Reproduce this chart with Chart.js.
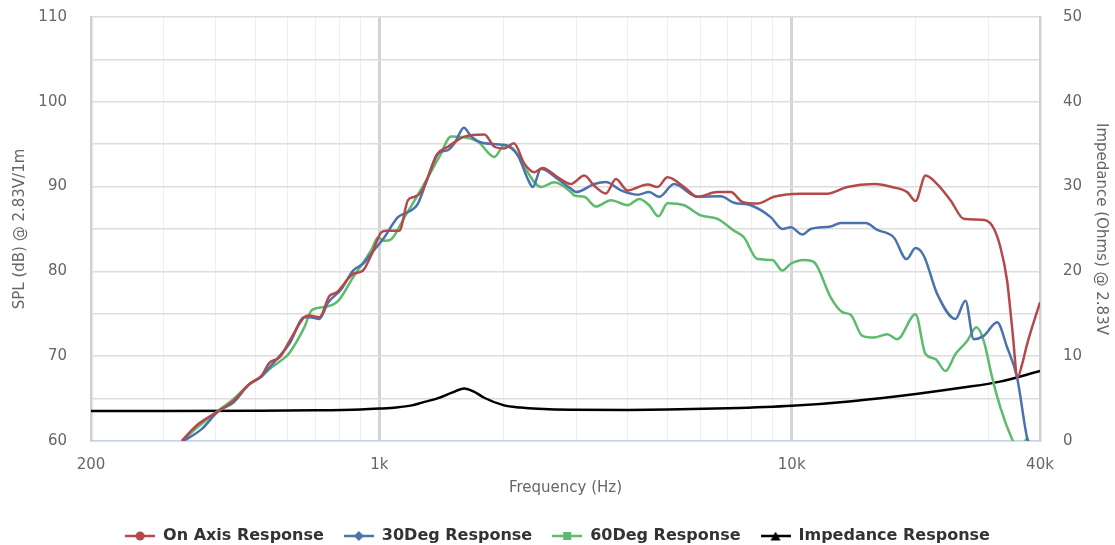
<!DOCTYPE html>
<html>
<head>
<meta charset="utf-8">
<script src="https://cdn.jsdelivr.net/npm/chart.js@4"></script>
<style>
html,body{margin:0;padding:0;background:#fff;}
#wrap{width:1115px;height:545px;position:relative;}
</style>
</head>
<body>
<div id="wrap"><canvas id="c" width="1115" height="545"></canvas></div>
<script>
// ---- data ----
const onAxisFreq = [332,360,407,442,484,518,542,573,606,658,677,716,757,787,864,913,956,1011,1040,1118,1174,1218,1264,1387,1467,1609,1799,1902,2011,2120,2248,2377,2491,2709,2917,2972,3141,3321,3544,3747,4001,4473,4728,5000,5485,5912,6607,7116,7594,8257,9058,10515,12201,13643,15826,17693,19060,19963,21108,22529,24266,26135,28681,30620,32069,33288,34230,35313,36192,37214,40000];
const onAxisSpl  = [60,61.8,63.5,64.7,66.7,67.7,69.25,69.85,71.8,74.6,74.8,74.6,77.1,77.5,79.7,80.1,81.9,84.6,84.8,84.8,88.4,88.8,89.35,93.9,94.7,95.9,96.15,94.7,94.5,95.1,92.7,91.7,92.2,91.1,90.3,90.5,91.3,90.1,89.2,90.9,89.55,90.25,89.95,91.1,89.95,88.8,89.35,89.35,88.2,88.0,88.8,89.15,89.15,89.95,90.3,89.9,89.35,88.3,91.3,90.3,88.4,86.2,86.1,85.4,82.85,78.9,73.4,67.55,69.05,71.4,76.35];

const deg30Freq = [335,371,407,442,484,518,542,606,658,677,716,751,809,864,913,956,1028,1110,1196,1241,1300,1387,1467,1522,1604,1671,1799,2011,2167,2291,2356,2467,2709,2917,3000,3321,3544,3855,4231,4513,4770,5188,5912,6730,7248,7955,8895,9495,9945,10614,11117,12428,13141,15111,16128,17693,18989,19963,20908,22529,24952,26383,27631,29215,31485,33288,35196,37214,38500];
const deg30Spl  = [60,61.4,63.5,64.5,66.7,67.6,68.7,71.5,74.6,74.6,74.4,76.3,77.9,80.1,80.9,82.1,84.0,86.4,87.2,88.0,90.55,93.9,94.3,95.1,96.95,95.9,95.1,94.9,93.7,90.9,89.95,92.1,90.9,89.75,89.35,90.3,90.55,89.55,89.05,89.35,88.8,90.3,88.8,88.85,88.1,87.8,86.4,85.0,85.2,84.35,85.0,85.3,85.7,85.7,84.9,84.0,81.45,82.75,81.85,77.35,74.4,76.55,72.0,72.4,74.0,71.05,67.5,60.4,58.5];

const deg60Freq = [332,360,407,442,484,518,542,596,606,658,685,736,794,864,956,993,1028,1069,1152,1312,1398,1494,1734,1902,2011,2126,2248,2467,2659,2917,2972,3141,3352,3644,4001,4269,4513,4754,5000,5485,6021,6607,7248,7663,8257,8979,9495,9945,10710,11324,12428,13266,13897,14835,15826,17053,18030,19963,21108,22317,23596,24952,26633,28048,29215,30620,32069,34230,35600,37214,38500];
const deg60Spl  = [60,61.5,63.6,64.9,66.7,67.6,68.5,70.0,70.4,73.4,75.4,75.8,76.5,79.3,82.5,84.0,83.6,83.8,86.4,91.1,93.5,95.9,95.3,93.5,94.9,94.3,92.3,89.95,90.5,89.35,88.95,88.8,87.65,88.4,87.8,88.55,87.8,86.5,88.05,87.8,86.6,86.2,84.8,84.0,81.45,81.35,80.1,80.9,81.35,81.1,76.95,75.2,74.9,72.4,72.2,72.6,72.0,74.95,70.25,69.65,68.25,70.25,71.8,73.4,71.8,67.5,63.95,60.2,58.6,60.3,58];

const impFreq = [200,300,500,700,900,1000,1100,1200,1264,1389,1500,1606,1700,1796,2007,2200,2427,2917,4000,5000,7000,10000,14000,20000,26000,32000,40000];
const impOhm  = [3.55,3.55,3.57,3.62,3.72,3.82,3.95,4.2,4.5,5.05,5.7,6.2,5.8,5.1,4.2,3.95,3.8,3.68,3.66,3.7,3.85,4.15,4.7,5.55,6.3,7.0,8.25];

const seriesNames = ['On Axis Response','30Deg Response','60Deg Response','Impedance Response'];
const seriesColors = ['#b5494a','#4a72ad','#5cbb6c','#000000'];
const seriesShapes = ['circle','diamond','square','triangle'];

const xGridTicks = [200,300,400,500,600,700,800,900,1000,2000,3000,4000,5000,6000,7000,8000,9000,10000,20000,30000,40000];
const xLabelValues = [200,1000,10000,40000];
const xLabelTexts = ['200','1k','10k','40k'];
const splMin = 60, splMax = 110, ohmMin = 0, ohmMax = 50;

// ---- helpers ----
function pts(xs, ys){ return xs.map((x,i)=>({x:x, y:ys[i]})); }
function makeMarker(color, shape){
  const c = document.createElement('canvas');
  c.width = 30; c.height = 14;
  const g = c.getContext('2d');
  g.strokeStyle = color; g.lineWidth = 2.5;
  g.beginPath(); g.moveTo(0,7); g.lineTo(30,7); g.stroke();
  g.fillStyle = color;
  g.beginPath();
  if (shape==='circle'){ g.arc(15,7,4.5,0,Math.PI*2); }
  else if (shape==='diamond'){ g.moveTo(15,2); g.lineTo(20,7); g.lineTo(15,12); g.lineTo(10,7); g.closePath(); }
  else if (shape==='square'){ g.rect(11,3,8,8); }
  else { g.moveTo(15,2.5); g.lineTo(20,11.5); g.lineTo(10,11.5); g.closePath(); }
  g.fill();
  return c;
}
const markers = seriesColors.map((col,i)=>makeMarker(col, seriesShapes[i]));

Chart.defaults.font.family = "'DejaVu Sans', sans-serif";
Chart.defaults.color = '#666';

const mk = (i, xs, ys, axis) => ({
  label: seriesNames[i], data: pts(xs, ys), yAxisID: axis,
  borderColor: seriesColors[i], backgroundColor: seriesColors[i],
  borderWidth: 2.5, pointRadius: 0, pointHoverRadius: 0,
  cubicInterpolationMode: 'monotone', fill: false
});

const fitVertical = (w) => (s) => { s.width = w; s.paddingTop = 9; s.paddingBottom = 9; };

new Chart(document.getElementById('c'), {
  type: 'line',
  data: { datasets: [
    mk(0, onAxisFreq, onAxisSpl, 'y'),
    mk(1, deg30Freq, deg30Spl, 'y'),
    mk(2, deg60Freq, deg60Spl, 'y'),
    mk(3, impFreq, impOhm, 'y2')
  ]},
  options: {
    responsive: false, animation: false, devicePixelRatio: 1,
    layout: { padding: { top: 17, bottom: -9, left: 0, right: 0 } },
    plugins: {
      tooltip: { enabled: false },
      legend: {
        position: 'bottom',
        labels: {
          usePointStyle: true, pointStyleWidth: 30, padding: 20,
          color: '#333',
          font: { family: "'DejaVu Sans', sans-serif", size: 16, weight: 'bold' },
          generateLabels: (chart) => {
            const items = Chart.defaults.plugins.legend.labels.generateLabels(chart);
            items.forEach((it, i) => { it.pointStyle = markers[i]; });
            return items;
          }
        }
      }
    },
    scales: {
      x: {
        type: 'logarithmic', min: 200, max: 40000,
        afterBuildTicks: (s) => { s.ticks = xGridTicks.map(v => ({value: v})); },
        afterFit: (s) => { s.height = 67; },
        ticks: {
          autoSkip: false, maxRotation: 0, padding: 15,
          font: { size: 15 }, color: '#666',
          callback: (v) => { const k = xLabelValues.indexOf(v); return k >= 0 ? xLabelTexts[k] : ''; }
        },
        grid: {
          drawTicks: false,
          color: (ctx) => (ctx.tick && (ctx.tick.value === 1000 || ctx.tick.value === 10000)) ? '#d4d4d4' : '#eeeeee',
          lineWidth: (ctx) => (ctx.tick && (ctx.tick.value === 1000 || ctx.tick.value === 10000)) ? 3 : 1
        },
        border: { display: true, color: '#c6d3e8', width: 1.5 },
        title: { display: true, text: 'Frequency (Hz)', color: '#666', font: { size: 15 }, padding: { top: 4, bottom: 11 } }
      },
      y: {
        position: 'left', min: splMin, max: splMax,
        afterFit: fitVertical(91),
        ticks: { stepSize: 5, padding: 24, font: { size: 15 }, color: '#666',
          callback: (v) => (v % 10 === 0 ? String(v) : '') },
        grid: { drawTicks: false, color: '#dddddd', lineWidth: 1.5 },
        border: { display: true, color: '#d0d0d0', width: 2.5 },
        title: { display: true, text: 'SPL (dB) @ 2.83V/1m', color: '#666', font: { size: 15 }, padding: 11 }
      },
      y2: {
        position: 'right', min: ohmMin, max: ohmMax,
        afterFit: fitVertical(75),
        ticks: { stepSize: 10, padding: 23, font: { size: 15 }, color: '#666' },
        grid: { display: false, drawTicks: false },
        border: { display: true, color: '#d0d0d0', width: 2.5 },
        title: { display: true, text: 'Impedance (Ohms) @ 2.83V', color: '#666', font: { size: 15 }, padding: 5 }
      }
    }
  }
});
</script>
</body>
</html>
